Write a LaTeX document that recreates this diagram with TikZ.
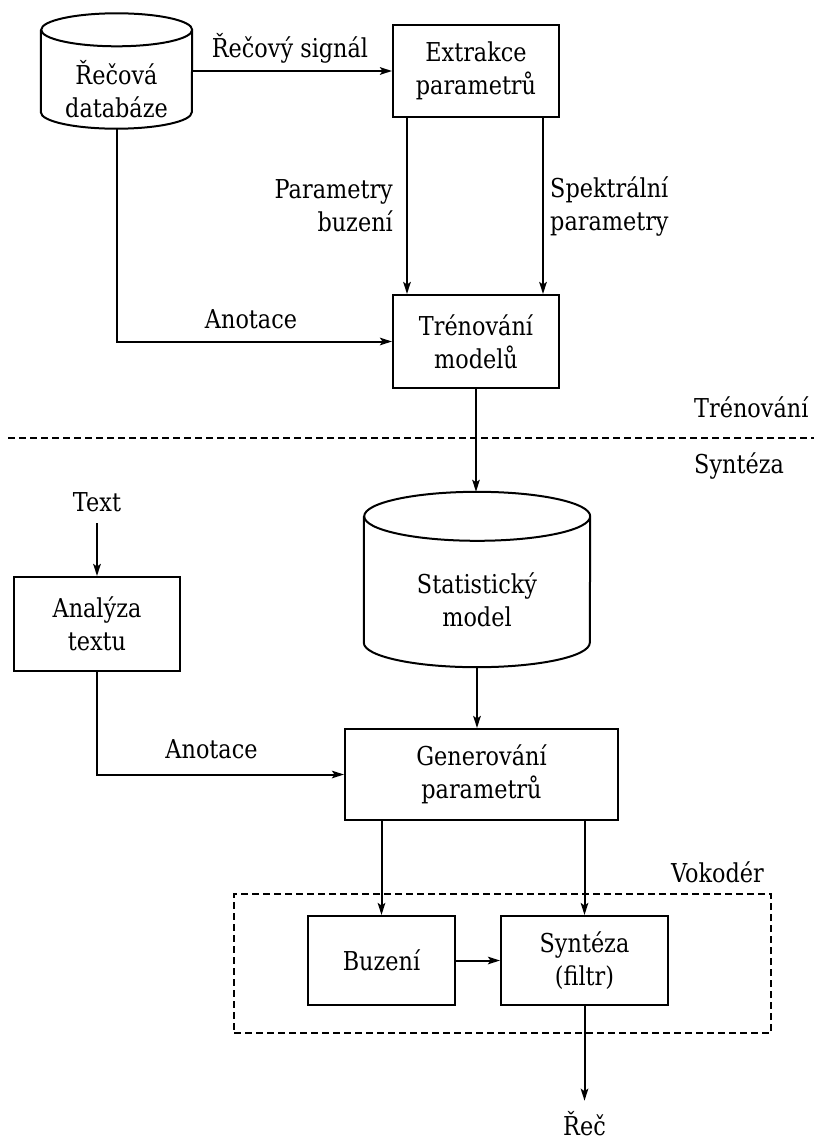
\documentclass[tikz,border=0pt]{standalone}
\usepackage{fontspec}
\setmainfont{DejaVu Serif}[FakeStretch=0.86]
\usetikzlibrary{arrows.meta}

% outline of a vertical storage cylinder drawn round a node:
% #1 node name, #2 x radius of the end ellipses, #3 y radius
\newcommand\cylinderoutline[3]{%
  \draw[line width=2pt]
    ([yshift=-#3]#1.north west) -- ([yshift=#3]#1.south west)
    arc[start angle=180, end angle=360, x radius=#2, y radius=#3]
    -- ([yshift=-#3]#1.north east)
    arc[start angle=0, end angle=360, x radius=#2, y radius=#3];
}

\begin{document}
\begin{tikzpicture}[x=1pt, y=-1pt,
  every node/.style={font=\fontsize{26}{33}\selectfont},
  box/.style={draw, line width=2pt, align=center, inner sep=0pt},
  storebox/.style={inner sep=0pt},
  lbl/.style={inner sep=0pt},
  flow/.style={line width=2pt, -{Stealth[length=12pt, width=7.5pt, inset=2.5pt]}},
  sep/.style={line width=1.5pt, dash pattern=on 7pt off 4pt},
]
\fill[white] (0,0) rectangle (814,1140);
\useasboundingbox (0,0) rectangle (814,1140);

% ---- training part ----
\node[storebox, minimum width=151pt, minimum height=115pt] (db) at (116.5,71) {};
\cylinderoutline{db}{75.5pt}{16.5pt}
\node[lbl, align=center] (dbtext) at (116.5,89) {Řečová\\databáze};

\node[box, minimum width=166pt, minimum height=92pt] (ext) at (476,71) {Extrakce\\parametrů};
\node[box, minimum width=166pt, minimum height=93pt] (tren) at (476,341.5) {Trénování\\modelů};

\node[lbl, anchor=base] (sig) at (290,57) {Řečový signál};
\node[lbl, align=right, anchor=east] (exc) at (393,206) {Parametry\\buzení};
\node[lbl, align=left, anchor=west] (spec) at (550,206) {Spektrální\\parametry};
\node[lbl, anchor=base] (an1) at (251,328) {Anotace};

\draw[flow] (db.east) -- (ext.west);
\draw[flow] ([xshift=15pt]ext.south west) -- ([xshift=15pt]tren.north west);
\draw[flow] ([xshift=-17pt]ext.south east) -- ([xshift=-17pt]tren.north east);
\draw[flow] (db.south) |- (tren.west);

% ---- phase separator ----
\coordinate (sepL) at (8,438);
\coordinate (sepR) at (814,438);
\draw[sep] (sepL) -- (sepR);
\node[lbl, anchor=base west] (phase1) at (694,417) {Trénování};
\node[lbl, anchor=base west] (phase2) at (694,473) {Syntéza};

% ---- synthesis part ----
\node[storebox, minimum width=226pt, minimum height=175pt] (stat) at (477,579.5) {};
\cylinderoutline{stat}{113pt}{24.5pt}
\node[lbl, align=center] (stattext) at (477,600) {Statistický\\model};

\node[lbl, anchor=base] (txt) at (97,511) {Text};
\node[box, minimum width=166pt, minimum height=94pt] (ana) at (97,624) {Analýza\\textu};
\node[box, minimum width=273pt, minimum height=91pt] (gen) at (481.5,774.5) {Generování\\parametrů};
\node[lbl, anchor=base] (an2) at (211.5,758) {Anotace};

% vocoder
\node[draw, sep, minimum width=537pt, minimum height=139pt] (voc) at (502.5,963.5) {};
\node[lbl, anchor=base east] (vlabel) at (764,882) {Vokodér};
\node[box, minimum width=147pt, minimum height=89pt] (buz) at (381.5,960.5) {Buzení};
\node[box, minimum width=167pt, minimum height=89pt] (syn) at (584.5,960.5) {Syntéza\\(filtr)};
\node[lbl, anchor=base] (rec) at (584.5,1135) {Řeč};

\draw[flow] (tren.south) -- (tren.south |- stat.north);
\draw[flow] ([yshift=-12pt]txt.base) -- (ana.north);
\draw[flow] (stat.south) -- (stat.south |- gen.north);
\draw[flow] (ana.south) |- (gen.west);
\draw[flow] (buz.north |- gen.south) -- (buz.north);
\draw[flow] (syn.north |- gen.south) -- (syn.north);
\draw[flow] (buz.east) -- (syn.west);
\draw[flow] (syn.south) -- ([yshift=10pt]rec.north);
\end{tikzpicture}
\end{document}
